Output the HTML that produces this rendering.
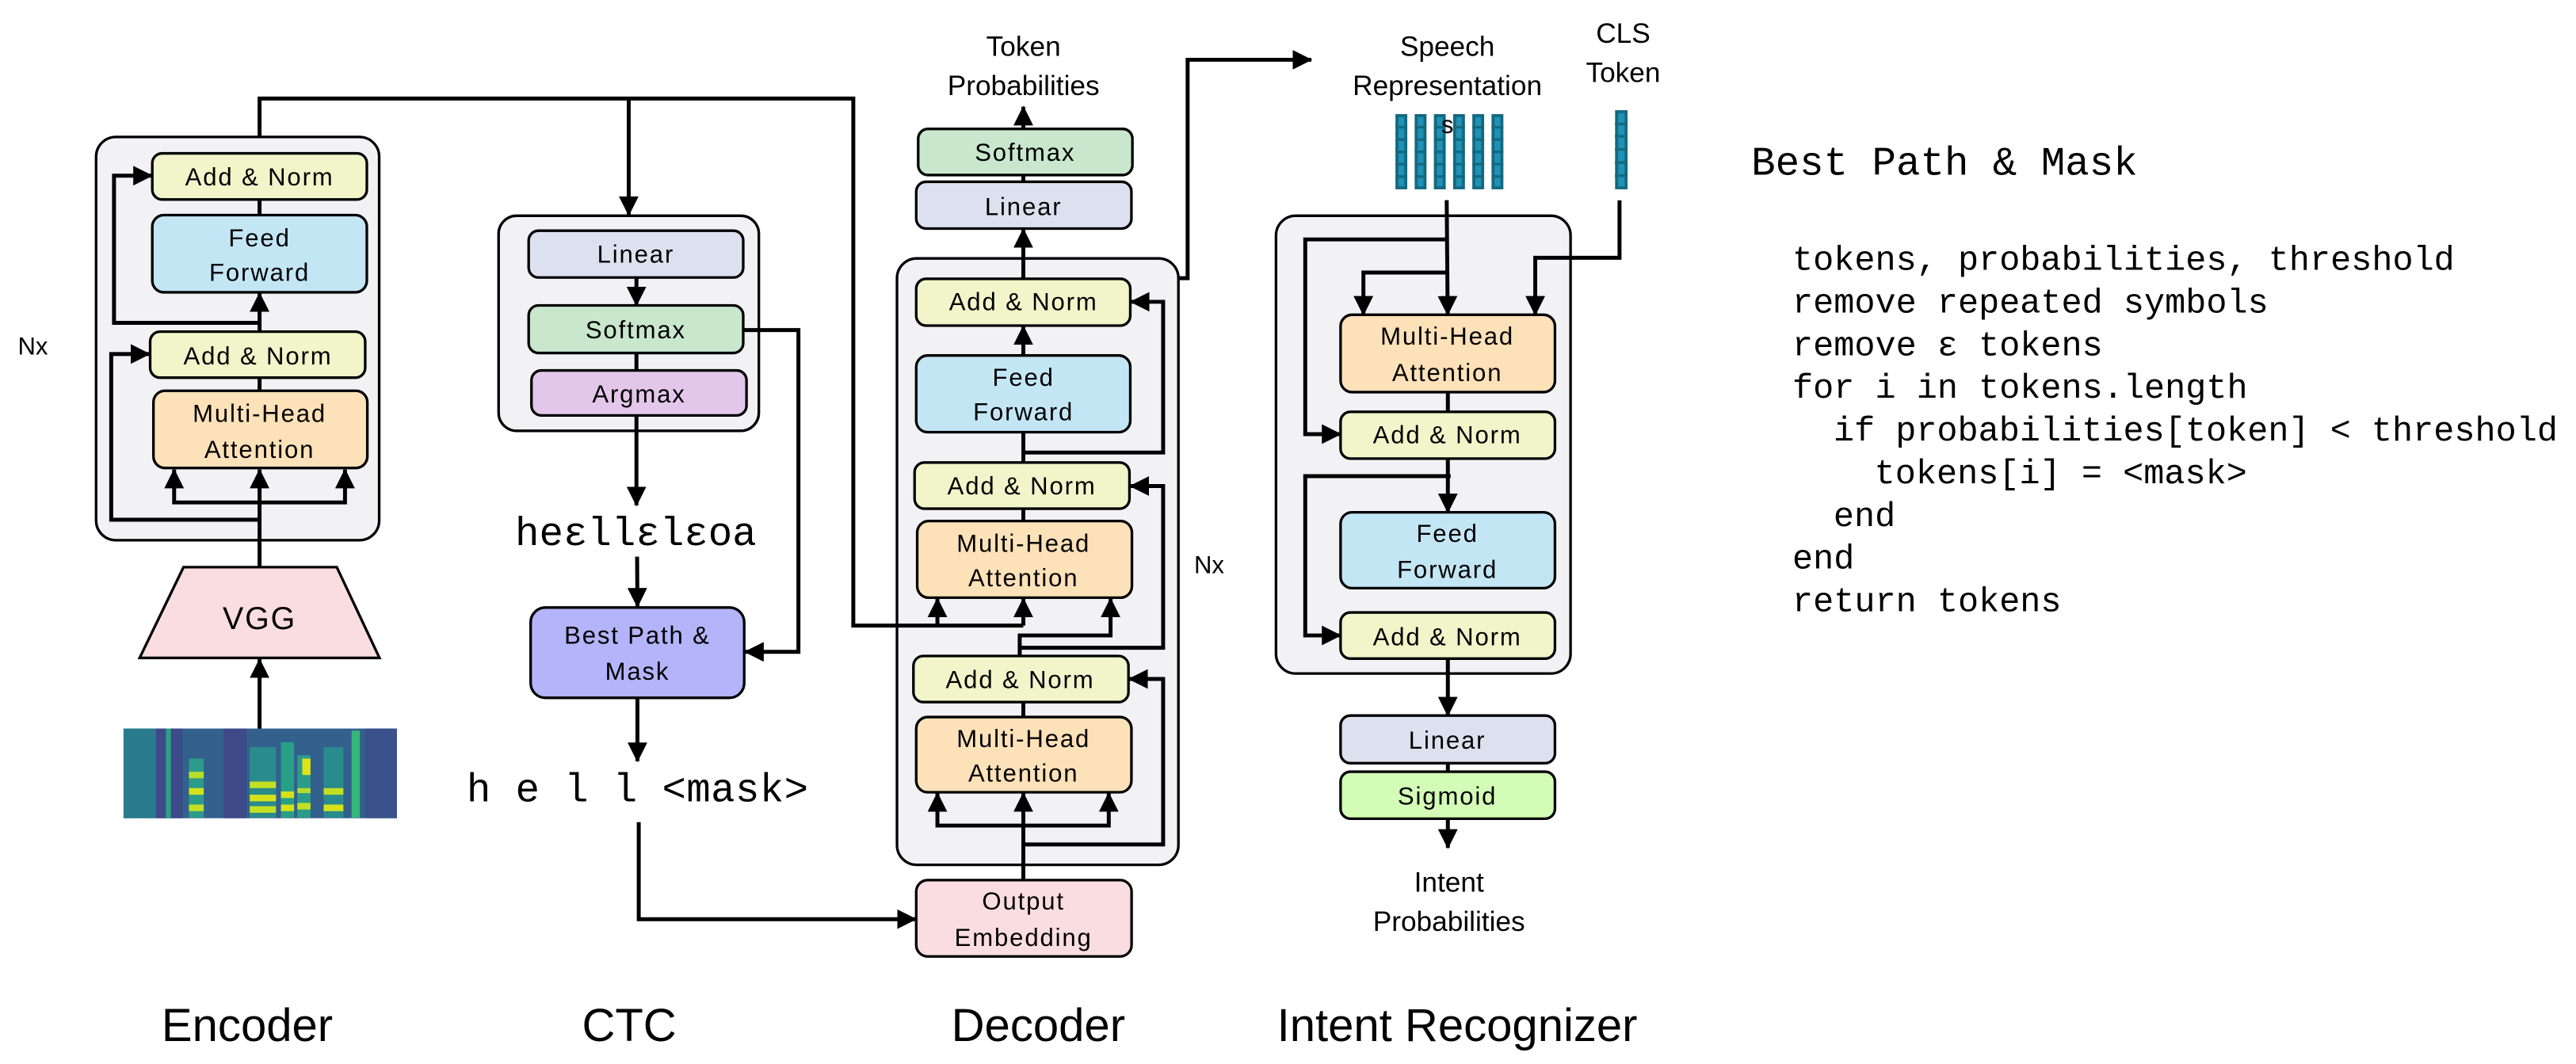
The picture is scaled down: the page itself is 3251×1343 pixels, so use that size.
<!DOCTYPE html>
<html><head><meta charset="utf-8"><style>
html,body{margin:0;padding:0;background:#fff;}
svg{display:block;}
text{font-family:"Liberation Sans",sans-serif;fill:#000;}
.b text{font-size:15px;letter-spacing:0.9px;}
.m text{font-family:"Liberation Mono",monospace;}
</style></head><body>
<svg width="3251" height="1343" viewBox="0 0 1568 648" preserveAspectRatio="none" xmlns="http://www.w3.org/2000/svg">
<defs>
<marker id="a" markerUnits="userSpaceOnUse" markerWidth="12" markerHeight="12" viewBox="0 0 10 10" refX="9.5" refY="5" orient="auto"><path d="M0,0 L10,5 L0,10 z" fill="#000"/></marker>
</defs>
<g fill="none" stroke="#000" stroke-width="1.6">
<rect x="58.5" y="83.4" width="172.3" height="245.6" rx="12" fill="#f2f2f4"/>
<rect x="303.5" y="131.4" width="158.4" height="131" rx="11" fill="#f2f2f4"/>
<rect x="546" y="157.4" width="171.3" height="369.3" rx="12" fill="#f2f2f4"/>
<rect x="776.7" y="131.4" width="179.3" height="278.8" rx="12" fill="#f2f2f4"/>
</g>
<g fill="none" stroke="#000" stroke-width="2.4">
<polyline points="158,83 158,60 519.4,60 519.4,381 622.9,381"/>
<line x1="382.7" y1="60" x2="382.7" y2="131" marker-end="url(#a)"/>
<line x1="158" y1="444" x2="158" y2="401.5" marker-end="url(#a)"/>
<line x1="158" y1="345.4" x2="158" y2="286" marker-end="url(#a)"/>
<polyline points="158,306 106,306 106,286" marker-end="url(#a)"/>
<polyline points="158,306 210,306 210,286" marker-end="url(#a)"/>
<polyline points="158,316.5 67.7,316.5 67.7,215.6 91,215.6" marker-end="url(#a)"/>
<line x1="158" y1="238" x2="158" y2="230"/>
<line x1="158" y1="202" x2="158" y2="178.5" marker-end="url(#a)"/>
<polyline points="158,196.6 69.4,196.6 69.4,107 92.5,107" marker-end="url(#a)"/>
<line x1="158" y1="131" x2="158" y2="121.5"/>
<line x1="387.4" y1="169" x2="387.4" y2="186" marker-end="url(#a)"/>
<line x1="387.4" y1="215" x2="387.4" y2="225.6"/>
<line x1="387.4" y1="253" x2="387.4" y2="307.8" marker-end="url(#a)"/>
<line x1="387.8" y1="339" x2="388" y2="369.5" marker-end="url(#a)"/>
<polyline points="452.4,201 486,201 486,397 453.5,397" marker-end="url(#a)"/>
<line x1="388" y1="425" x2="388" y2="463.6" marker-end="url(#a)"/>
<polyline points="388.8,500.7 388.8,559.8 557.5,559.8" marker-end="url(#a)"/>
<line x1="622.9" y1="78.5" x2="622.9" y2="65" marker-end="url(#a)"/>
<line x1="622.9" y1="106.6" x2="622.9" y2="110.7"/>
<line x1="622.9" y1="169.8" x2="622.9" y2="139.5" marker-end="url(#a)"/>
<line x1="622.9" y1="216.5" x2="622.9" y2="198.6" marker-end="url(#a)"/>
<line x1="622.9" y1="281.7" x2="622.9" y2="263.2"/>
<polyline points="622.9,275.6 708,275.6 708,183.8 688.3,183.8" marker-end="url(#a)"/>
<line x1="622.9" y1="317.3" x2="622.9" y2="309.8"/>
<polyline points="570.6,381 570.6,364.5" marker-end="url(#a)"/>
<polyline points="622.9,381 622.9,364.5" marker-end="url(#a)"/>
<polyline points="620.7,399.5 620.7,387 676,387 676,364.5" marker-end="url(#a)"/>
<polyline points="620.7,394.5 708,394.5 708,296 688,296" marker-end="url(#a)"/>
<line x1="622.9" y1="436.7" x2="622.9" y2="427.6"/>
<polyline points="622.9,536 622.9,483" marker-end="url(#a)"/>
<polyline points="622.9,502.8 570.6,502.8 570.6,483" marker-end="url(#a)"/>
<polyline points="622.9,502.8 674.9,502.8 674.9,483" marker-end="url(#a)"/>
<polyline points="622.9,514.3 708,514.3 708,413.5 687.3,413.5" marker-end="url(#a)"/>
<polyline points="717.3,169.4 722.9,169.4 722.9,36.4 798.2,36.4" marker-end="url(#a)"/>
<line x1="880.6" y1="121.9" x2="881.2" y2="191.7" marker-end="url(#a)"/>
<polyline points="880.8,145.8 794.5,145.8 794.5,264.4 816,264.4" marker-end="url(#a)"/>
<polyline points="880.8,166 829.9,166 829.9,191.7" marker-end="url(#a)"/>
<polyline points="985.8,122 985.8,157 934.5,157 934.5,191.7" marker-end="url(#a)"/>
<line x1="881.3" y1="238.8" x2="881.3" y2="250.8"/>
<line x1="881.3" y1="279.3" x2="881.3" y2="312" marker-end="url(#a)"/>
<polyline points="883,290 794.5,290 794.5,387 816,387" marker-end="url(#a)"/>
<line x1="881.3" y1="401.1" x2="881.3" y2="435.8" marker-end="url(#a)"/>
<line x1="881.3" y1="464.8" x2="881.3" y2="470"/>
<line x1="881.3" y1="498.6" x2="881.3" y2="516.4" marker-end="url(#a)"/>
</g>
<g stroke="#000" stroke-width="1.6">
<rect x="92.7" y="93.4" width="130.6" height="28.1" rx="6" fill="#f2f5c9"/>
<rect x="92.7" y="131" width="130.6" height="47" rx="7" fill="#c3e6f5"/>
<rect x="91.4" y="202" width="130.9" height="28" rx="6" fill="#f2f5c9"/>
<rect x="93.4" y="238" width="130.2" height="47" rx="7" fill="#fde1b8"/>
<polygon points="111.7,345.4 205,345.4 231,400.7 85,400.7" fill="#fadde0"/>
<rect x="321.8" y="140.5" width="130.6" height="28.5" rx="6" fill="#dde1ef"/>
<rect x="321.8" y="186" width="130.6" height="29" rx="6" fill="#c9e7cd"/>
<rect x="323.5" y="225.6" width="130.9" height="27.4" rx="6" fill="#e3c7ea"/>
<rect x="323" y="370" width="130" height="55" rx="9" fill="#b3b4fa"/>
<rect x="558.9" y="78.5" width="130.4" height="28.1" rx="6" fill="#c9e7cd"/>
<rect x="557.7" y="110.7" width="131" height="28.5" rx="6" fill="#dde1ef"/>
<rect x="557.7" y="169.8" width="130.3" height="28.5" rx="6" fill="#f2f5c9"/>
<rect x="557.7" y="216.5" width="130.3" height="46.7" rx="7" fill="#c3e6f5"/>
<rect x="556.7" y="281.7" width="130.8" height="28.1" rx="6" fill="#f2f5c9"/>
<rect x="558.3" y="317.3" width="130.7" height="46.7" rx="7" fill="#fde1b8"/>
<rect x="556" y="399.5" width="130.9" height="28.1" rx="6" fill="#f2f5c9"/>
<rect x="557.7" y="436.7" width="131" height="45.8" rx="7" fill="#fde1b8"/>
<rect x="557.7" y="536" width="131.1" height="46.5" rx="7" fill="#fadde0"/>
<rect x="816" y="191.7" width="130.5" height="47.1" rx="7" fill="#fde1b8"/>
<rect x="816" y="250.8" width="130.5" height="28.5" rx="6" fill="#f2f5c9"/>
<rect x="816" y="312" width="130.5" height="46.2" rx="7" fill="#c3e6f5"/>
<rect x="816" y="373" width="130.5" height="28.1" rx="6" fill="#f2f5c9"/>
<rect x="816" y="435.8" width="130.5" height="29" rx="6" fill="#dde1ef"/>
<rect x="816" y="470" width="130.5" height="28.6" rx="6" fill="#d3fcb7"/>
</g>
<g>
<rect x="75.2" y="443.7" width="166.4" height="54.6" fill="#33608d"/>
<rect x="75.2" y="443.7" width="20" height="54.6" fill="#2a7b8e"/>
<rect x="95" y="443.7" width="16" height="54.6" fill="#3e4a89"/>
<rect x="136" y="443.7" width="14" height="54.6" fill="#3e4a89"/>
<rect x="222" y="443.7" width="19.6" height="54.6" fill="#3b518b"/>
<rect x="101" y="443.7" width="3" height="54.6" fill="#29a386"/>
<rect x="115" y="462" width="9" height="36" fill="#2b9c8a"/>
<rect x="115" y="470" width="9" height="4" fill="#b5de2b"/>
<rect x="115" y="480" width="9" height="4" fill="#d5e21a"/>
<rect x="115" y="490" width="9" height="4" fill="#c2df23"/>
<rect x="152" y="455" width="16" height="43" fill="#2a8b8d"/>
<rect x="152" y="476" width="16" height="4" fill="#c2df23"/>
<rect x="152" y="484" width="16" height="4" fill="#d5e21a"/>
<rect x="152" y="491" width="16" height="4" fill="#c2df23"/>
<rect x="171" y="452" width="8" height="46" fill="#27a085"/>
<rect x="171" y="482" width="8" height="4" fill="#d5e21a"/>
<rect x="171" y="490" width="8" height="4" fill="#d5e21a"/>
<rect x="181" y="460" width="8" height="38" fill="#2b9c8a"/>
<rect x="181" y="480" width="8" height="3" fill="#b5de2b"/>
<rect x="181" y="489" width="8" height="4" fill="#c2df23"/>
<rect x="197" y="455" width="12" height="43" fill="#2a8b8d"/>
<rect x="197" y="480" width="12" height="4" fill="#c2df23"/>
<rect x="197" y="490" width="12" height="4" fill="#d5e21a"/>
<rect x="184" y="462" width="5" height="10" fill="#e0e318"/>
<rect x="214" y="445" width="5" height="53" fill="#35b779"/>
</g>
<g stroke="#13697f" stroke-width="1.8" fill="#2090b5">
<rect x="850.3" y="70.4" width="5.4" height="44"/>
<rect x="862" y="70.4" width="5.4" height="44"/>
<rect x="873.7" y="70.4" width="5.4" height="44"/>
<rect x="885.4" y="70.4" width="5.4" height="44"/>
<rect x="897.1" y="70.4" width="5.4" height="44"/>
<rect x="908.8" y="70.4" width="5.4" height="44"/>
<rect x="984" y="68" width="5.8" height="46.4"/>
</g>
<g stroke="#13697f" stroke-width="1.6">
<path d="M849.4,77.5h7.2M849.4,85h7.2M849.4,92.5h7.2M849.4,100h7.2M849.4,107.5h7.2 M861.1,77.5h7.2M861.1,85h7.2M861.1,92.5h7.2M861.1,100h7.2M861.1,107.5h7.2 M872.8,77.5h7.2M872.8,85h7.2M872.8,92.5h7.2M872.8,100h7.2M872.8,107.5h7.2 M884.5,77.5h7.2M884.5,85h7.2M884.5,92.5h7.2M884.5,100h7.2M884.5,107.5h7.2 M896.2,77.5h7.2M896.2,85h7.2M896.2,92.5h7.2M896.2,100h7.2M896.2,107.5h7.2 M907.9,77.5h7.2M907.9,85h7.2M907.9,92.5h7.2M907.9,100h7.2M907.9,107.5h7.2 M983,75.5h7.7M983,83h7.7M983,91h7.7M983,99h7.7M983,107h7.7"/>
</g>
<g class="b" text-anchor="middle">
<text x="158" y="113">Add &amp; Norm</text>
<text x="158" y="150">Feed</text><text x="158" y="171">Forward</text>
<text x="157" y="222">Add &amp; Norm</text>
<text x="158" y="257">Multi-Head</text><text x="158" y="279">Attention</text>
<text x="158" y="383" style="font-size:19px">VGG</text>
<text x="387" y="160">Linear</text>
<text x="387" y="206">Softmax</text>
<text x="389" y="245">Argmax</text>
<text x="388" y="392">Best Path &amp;</text><text x="388" y="414">Mask</text>
<text x="624" y="98">Softmax</text>
<text x="623" y="131">Linear</text>
<text x="623" y="189">Add &amp; Norm</text>
<text x="623" y="235">Feed</text><text x="623" y="256">Forward</text>
<text x="622" y="301">Add &amp; Norm</text>
<text x="623" y="336">Multi-Head</text><text x="623" y="357">Attention</text>
<text x="621" y="419">Add &amp; Norm</text>
<text x="623" y="455">Multi-Head</text><text x="623" y="476">Attention</text>
<text x="623" y="554">Output</text><text x="623" y="576">Embedding</text>
<text x="881" y="210">Multi-Head</text><text x="881" y="232">Attention</text>
<text x="881" y="270">Add &amp; Norm</text>
<text x="881" y="330">Feed</text><text x="881" y="352">Forward</text>
<text x="881" y="393">Add &amp; Norm</text>
<text x="881" y="456">Linear</text>
<text x="881" y="490">Sigmoid</text>
</g>
<g text-anchor="middle" style="font-size:17px">
<text x="623" y="34">Token</text><text x="623" y="58">Probabilities</text>
<text x="881" y="34">Speech</text><text x="881" y="58">Representation</text>
<text x="881" y="81" style="font-size:15px">s</text>
<text x="988" y="26">CLS</text><text x="988" y="50">Token</text>
<text x="882" y="543">Intent</text><text x="882" y="567">Probabilities</text>
<text x="20" y="216" style="font-size:15px">Nx</text>
<text x="736" y="349" style="font-size:15px">Nx</text>
</g>
<g text-anchor="middle" style="font-size:28px">
<text x="150.5" y="634">Encoder</text>
<text x="383" y="634">CTC</text>
<text x="632" y="634">Decoder</text>
<text x="887" y="634">Intent Recognizer</text>
</g>
<g class="m" style="font-size:24.5px">
<text x="387" y="332" text-anchor="middle">heεllεlεoa</text>
<text x="284" y="488" textLength="208">h e l l &lt;mask&gt;</text>
<text x="1066" y="106.4">Best Path &amp; Mask</text>
</g>
<g class="m" style="font-size:21px">
<text x="1091" y="164.3">tokens, probabilities, threshold</text>
<text x="1091" y="190.3">remove repeated symbols</text>
<text x="1091" y="216.3">remove ε tokens</text>
<text x="1091" y="242.3">for i in tokens.length</text>
<text x="1116" y="268.3">if probabilities[token] &lt; threshold</text>
<text x="1141" y="294.3">tokens[i] = &lt;mask&gt;</text>
<text x="1116" y="320.3">end</text>
<text x="1091" y="346.3">end</text>
<text x="1091" y="372.3">return tokens</text>
</g>
</svg>
</body></html>
